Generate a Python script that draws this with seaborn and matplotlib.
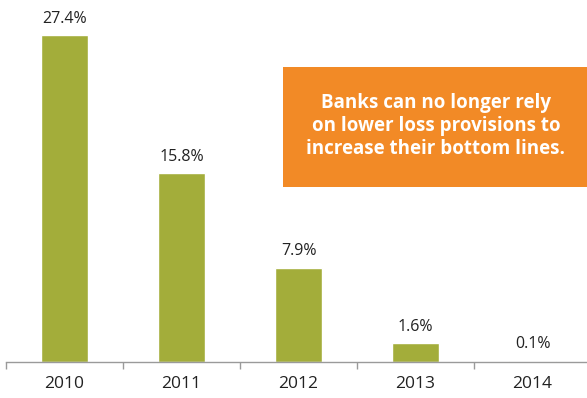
import matplotlib
matplotlib.use("Agg")
import matplotlib.pyplot as plt
import seaborn as sns
import pandas as pd
import numpy as np

years = ["2010", "2011", "2012", "2013", "2014"]
values = [27.4, 15.8, 7.9, 1.6, 0.1]
labels = ["27.4%", "15.8%", "7.9%", "1.6%", "0.1%"]
callout = "Banks can no longer rely\non lower loss provisions to\nincrease their bottom lines."

sns.set_theme(style="white")
plt.rcParams["font.family"] = ["Open Sans", "DejaVu Sans"]

df = pd.DataFrame({"year": years, "value": values})

fig = plt.figure(figsize=(5.87, 3.98), dpi=100)
ax = fig.add_axes([6 / 587, 36 / 398, 585 / 587, 362 / 398])

sns.barplot(data=df, x="year", y="value", color="#A3AD3A", width=0.40,
            saturation=1, ax=ax)

ax.set_ylim(0, 27.4 * 362 / 327)
ax.set_xlim(-0.5, 4.5)
for s in ["top", "right", "left"]:
    ax.spines[s].set_visible(False)
ax.spines["bottom"].set_color("#9a9a9a")
ax.spines["bottom"].set_linewidth(1.0)
ax.set_yticks([])
ax.set_xlabel("")
ax.set_ylabel("")
ax.set_xticks(range(len(years)))
ax.set_xticklabels(years, fontsize=12.5, color="#222222")
ax.tick_params(axis="x", which="major", length=0, pad=10, bottom=True)
ax.set_xticks(np.arange(-0.5, len(years), 1.0), minor=True)
ax.tick_params(axis="x", which="minor", length=5, width=1, color="#9a9a9a",
               direction="out", bottom=True)

for i, (v, lab) in enumerate(zip(values, labels)):
    ax.annotate(lab, (i, v), xytext=(0, 6), textcoords="offset points",
                ha="center", va="bottom", fontsize=11.5, color="#222222")

fig.patches.append(plt.Rectangle((283 / 587, 1 - 187 / 398), 304 / 587, 120 / 398,
                                 transform=fig.transFigure, facecolor="#F28A26",
                                 edgecolor="none", zorder=5))
fig.text(436 / 587, 1 - 126 / 398, callout, ha="center", va="center",
         fontsize=13.5, fontweight="bold", color="white", linespacing=1.18,
         zorder=6)

fig.savefig("out.png", dpi=100)
